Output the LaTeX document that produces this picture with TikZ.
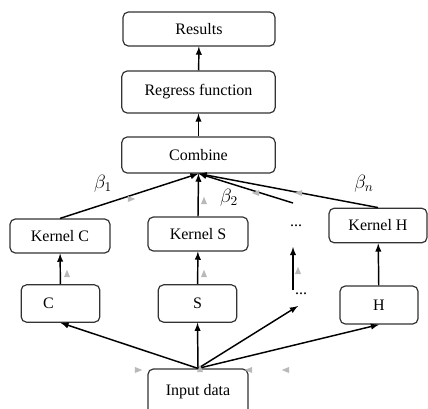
\documentclass[tikz,border=0pt]{standalone}
\usepackage{fontspec}
\setmainfont{Liberation Serif}
\usetikzlibrary{shapes.geometric}

\tikzset{
	box/.style={draw=black!80, line width=0.9pt, rounded corners=4pt, font=\fontsize{12}{14}\selectfont},
	arr/.style={->, line width=1.1pt},
	wt/.style={font=\fontsize{14}{16}\selectfont},
	tri/.style={fill=gray!55, isosceles triangle, inner sep=0pt, minimum width=4.5pt, minimum height=4pt},
}

\begin{document}
\begin{tikzpicture}[>=latex, x=0.75pt, y=-0.75pt]
		\useasboundingbox (0,0) rectangle (428,408);

		% Верхняя цепочка
		\node[box, minimum width=114pt, minimum height=25.5pt] (res) at (199,29) {Results};
		\node[box, minimum width=115pt, minimum height=31.5pt] (reg) at (198.5,92) {Regress function};
		\node[box, minimum width=115pt, minimum height=27pt] (comb) at (198.5,155) {Combine};

		% Ядра
		\node[box, minimum width=75pt, minimum height=25.5pt] (kc) at (60,236) {Kernel C};
		\node[box, minimum width=75pt, minimum height=25.5pt] (ks) at (198,234) {Kernel S};
		\node[box, minimum width=73.5pt, minimum height=26pt] (kh) at (378,225.5) {Kernel H};
		\node[anchor=base, font=\fontsize{12}{14}\selectfont] (kdots) at (296,226) {...};

		% Признаки
		\node[box, minimum width=59pt, minimum height=28pt] (c) at (60.5,303.5) {\makebox[26pt][l]{C}};
		\node[box, minimum width=59pt, minimum height=28pt] (s) at (197.5,303.5) {S};
		\node[box, minimum width=58.5pt, minimum height=28.5pt] (h) at (379,305) {H};
		\node[anchor=base, font=\fontsize{12}{14}\selectfont] (fdots) at (301,294) {...};

		% Вход
		\node[box, minimum width=75pt, minimum height=36pt] (in) at (198,393) {\raisebox{5pt}{Input data}};

		% свободные концы стрелок у многоточий
		\coordinate (dIn) at (298,306);
		\coordinate (dLo) at (293,290);
		\coordinate (dHi) at (293,247);
		\coordinate (dUp) at (293,203);

		% Стрелки снизу вверх
		\foreach \t in {c.south,s.south,h.south,dIn}
			\draw[arr] (in.north) -- (\t);
		\draw[arr] (c) -- (kc);
		\draw[arr] (s) -- (ks);
		\draw[arr] (h) -- (kh);
		\draw[arr] (dLo) -- (dHi);
		\foreach \t in {kc,ks,kh,dUp}
			\draw[arr] (\t.north) -- (comb.south);
		\draw[arr] (comb) -- (reg);
		\draw[arr] (reg) -- (res);

		% Веса
		\node[wt] (b1) at (103,184) {$\beta_1$};
		\node[wt] (b2) at (229,198) {$\beta_2$};
		\node[wt] (bn) at (364,184) {$\beta_n$};

		% Серые маркеры
		\foreach \x/\y/\r [count=\n] in {130/199/20, 204/202/90, 257/193/155, 300/193/168,
				137/370/330, 200/370/90, 250/370/210, 287/370/190,
				67/275/90, 204/275/90, 298/272/90}
			\node[tri, shape border rotate=\r] (m\n) at (\x,\y) {};
	\end{tikzpicture}
\end{document}
